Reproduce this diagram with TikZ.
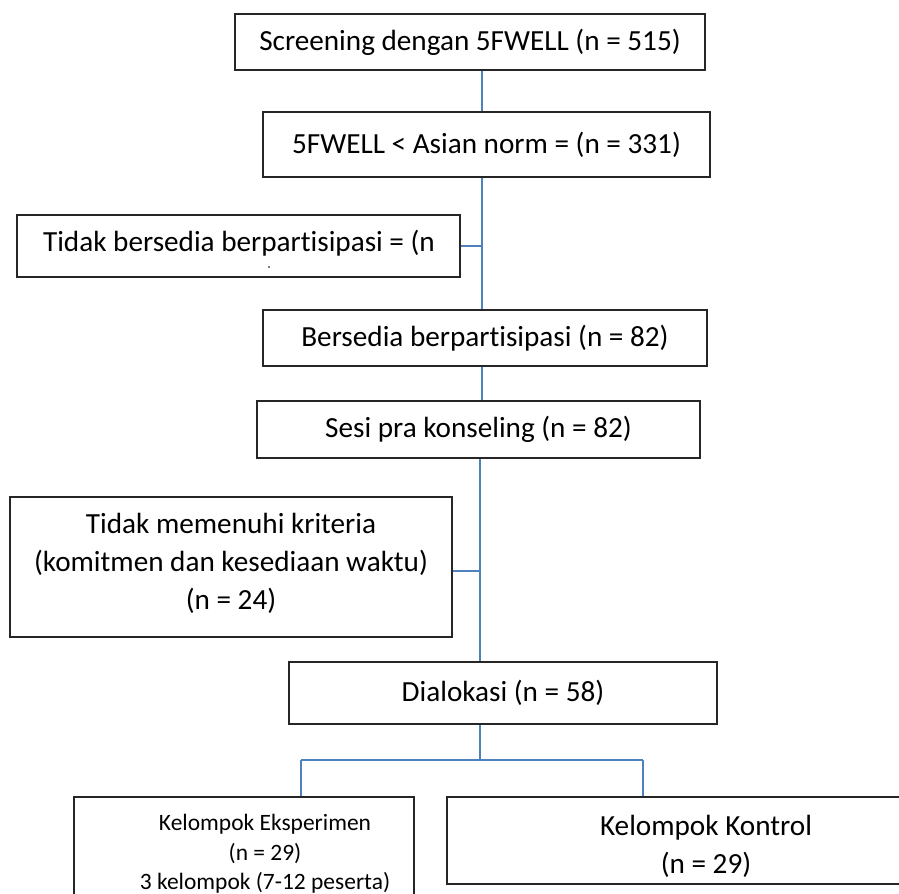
\documentclass[tikz,border=0pt]{standalone}
\usepackage{fontspec}
\setmainfont{Carlito}[Ligatures={NoCommon}]
\definecolor{garis}{HTML}{4F81BD}
\tikzset{
  kotak/.style={draw=black!85, line width=0.9pt, fill=white, inner sep=0pt, align=center,
    font=\fontsize{21.9}{28.5}\selectfont},
  ukuran/.style 2 args={minimum width=#1*0.75pt, minimum height=#2*0.75pt},
  hubung/.style={draw=garis, line width=1.1pt},
  isi/.style={align=center, font=\fontsize{21.9}{28.5}\selectfont},
  kecil/.style={align=center, font=\fontsize{17.6}{22.2}\selectfont}
}
\begin{document}
\begin{tikzpicture}[x=0.75pt,y=-0.75pt]
\useasboundingbox (0,0) rectangle (899,893);
\clip (0,0) rectangle (899,893);

% kotak alur
\node[kotak, ukuran={470}{56}] (screen) at (470,42) {Screening dengan 5FWELL (n = 515)};
\node[kotak, ukuran={447}{65}] (norma) at (486.5,144.5) {5FWELL < Asian norm = (n = 331)};
\node[kotak, ukuran={443}{62}] (tolak) at (238.5,246) {};
\node[isi] (tolaklabel) at (239,243) {Tidak bersedia berpartisipasi = (n};
\fill (269,267) circle (0.9);
\node[kotak, ukuran={444}{56}] (sedia) at (485,338) {Bersedia berpartisipasi (n = 82)};
\node[kotak, ukuran={443}{57}] (pra) at (478.5,429.5) {Sesi pra konseling (n = 82)};
\node[kotak, ukuran={442}{140}] (gagal) at (231,567) {};
\node[isi] (gagallabel) at (231,563) {Tidak memenuhi kriteria\\(komitmen dan kesediaan waktu)\\(n = 24)};
\node[kotak, ukuran={428}{62}] (alokasi) at (503,693) {Dialokasi (n = 58)};
\node[kotak, ukuran={340}{163}] (eksp) at (244,878.5) {};
\node[kecil] (eksplabel) at (265,854) {Kelompok Eksperimen\\(n = 29)\\3 kelompok (7-12 peserta)};
\node[kotak, ukuran={517}{87}] (kontrol) at (705.5,840.5) {};
\node[isi] (kontrollabel) at (706,846) {Kelompok Kontrol\\(n = 29)};

% garis penghubung
\coordinate (batang) at (482,0);
\coordinate (batang2) at (480,0);
\coordinate (kiri) at (301,760);
\coordinate (kanan) at (643,760);

\draw[hubung] (batang |- screen.south) -- (batang |- norma.north);
\draw[hubung] (batang |- norma.south) -- (batang |- sedia.north);
\draw[hubung] (tolak.east) -- (batang |- tolak.east);
\draw[hubung] (batang |- sedia.south) -- (batang |- pra.north);
\draw[hubung] (batang2 |- pra.south) -- (batang2 |- alokasi.north);
\draw[hubung] ([yshift=-3pt]gagal.east) -- ([yshift=-3pt]batang2 |- gagal.east);
\draw[hubung] (batang2 |- alokasi.south) -- (batang2 |- kiri);
\draw[hubung] (kiri) -- (kanan);
\draw[hubung] (kiri) -- (kiri |- eksp.north);
\draw[hubung] (kanan) -- (kanan |- kontrol.north);
\end{tikzpicture}
\end{document}
